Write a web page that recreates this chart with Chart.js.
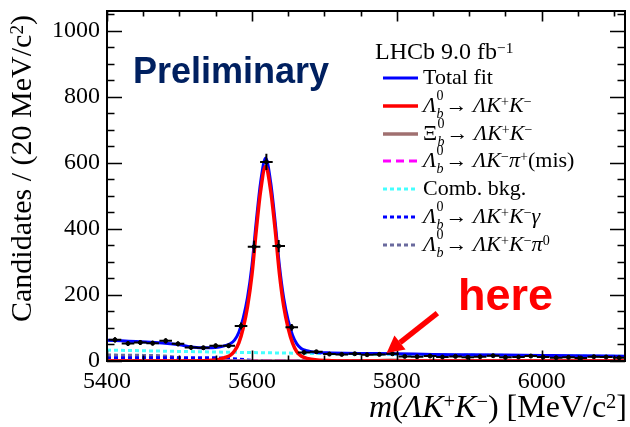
<!DOCTYPE html>
<html>
<head>
<meta charset="utf-8">
<script src="https://cdn.jsdelivr.net/npm/chart.js@4.4.1/dist/chart.umd.min.js"></script>
<style>
  html, body { margin: 0; padding: 0; background: #fff; }
  #wrap { position: relative; width: 630px; height: 427px; overflow: hidden; }
  #massChart { position: absolute; left: 0; top: 0; }
  .serif { font-family: 'Liberation Serif', 'Times New Roman', serif; color: #000; }
  .abs { position: absolute; white-space: nowrap; line-height: 1; }
  .up { position: relative; top: -0.42em; font-size: 0.64em; }
  .ss { display: inline-block; position: relative; width: 0.42em; height: 0; }
  .ss span { position: absolute; left: 0.02em; font-size: 14px; line-height: 1; }
  .ss .hi { top: -23px; }
  .ss .lo { top: -5px; font-style: italic; }
  .legend-row { position: absolute; left: 380px; height: 22px; }
  .legend-row svg { position: absolute; left: 2px; top: 8px; }
  .legend-row .txt { position: absolute; left: 43px; top: 0; font-size: 22px; line-height: 22px; white-space: nowrap; }
</style>
</head>
<body>
<div id="wrap">
  <canvas id="massChart" width="630" height="427"></canvas>

  <div class="abs" style="left:133px; top:50px; font: bold 36px 'Liberation Sans', Arial, sans-serif; color:#002060;">Preliminary</div>
  <div class="abs" style="left:458px; top:269px; font: bold 45px 'Liberation Sans', Arial, sans-serif; color:#ff0000;">here</div>

  <div class="abs serif" style="left:375px; top:39px; font-size:24px;">LHCb 9.0 fb<span class="up">−1</span></div>
  <div id="legend"></div>

  <div class="abs serif" style="left:0; top:0; width:344px; text-align:right; font-size:30px; line-height:34px; transform-origin:0 0; transform:translate(4px, 359px) rotate(-90deg);">Candidates / (20 MeV/c<span class="up">2</span>)</div>
  <div class="abs serif" style="right:3px; top:390px; font-size:32px;"><i>m</i>(<i>ΛK</i><span class="up">+</span><i>K</i><span class="up">−</span>) [MeV/c<span class="up">2</span>]</div>
</div>

<script>
// binned candidates (bin centres in MeV)
const binMass = [5411, 5429, 5446, 5463, 5481, 5498, 5516, 5533, 5550, 5568, 5585, 5603, 5620,
  5637, 5655, 5672, 5689, 5707, 5724, 5742, 5759, 5776, 5794, 5811, 5828, 5846, 5863, 5881,
  5898, 5915, 5933, 5950, 5968, 5985, 6002, 6020, 6037, 6054, 6072, 6089, 6107];
const candidates = [64, 53, 56, 54, 61, 52, 41, 40, 46, 46, 106, 346, 603,
  348, 102, 26, 28, 21, 20, 22, 19, 20, 22, 14, 13, 15, 12, 14,
  11, 13, 16, 11, 12, 15, 12, 10, 11, 9, 13, 12, 10];
const binHalfWidth = 8.7;

// fit curves
const fitMass = [5400, 5420, 5440, 5460, 5480, 5500, 5515, 5530, 5545, 5555, 5562, 5570, 5576,
  5582, 5588, 5594, 5600, 5606, 5612, 5619, 5626, 5632, 5638, 5644, 5650, 5656, 5662, 5668,
  5676, 5690, 5710, 5750, 5800, 5850, 5900, 5950, 6000, 6050, 6115];
const fitTotal = [63, 61, 59, 57, 54, 49, 43, 40, 40, 42, 46, 52, 63,
  87, 130, 193, 288, 422, 541, 615, 540, 424, 289, 189, 124, 79, 52, 38,
  31, 26, 24.5, 23, 22, 20, 19, 18, 17, 16, 14.5];
const fitSignal = [0, 0, 0, 0, 0, 0, 0, 0.5, 2, 5, 10, 17, 30,
  55, 100, 165, 260, 395, 515, 590, 515, 400, 265, 165, 100, 55, 28, 15,
  8, 3, 1, 0, 0, 0, 0, 0, 0, 0, 0];

const xibMass = [5400, 5740, 5770, 5792, 5815, 5840, 6115];
const xibSignal = [0, 0, 0.6, 2, 0.6, 0, 0];

const misMass = [5400, 5500, 5600, 5700, 5900, 6115];
const misBkg = [1.5, 1.5, 1.5, 1, 0.8, 0.5];

const combMass = [5400, 5500, 5600, 5700, 5800, 5900, 6000, 6115];
const combBkg = [33, 29, 25.5, 22.5, 20, 18, 16, 14];

const gammaMass = [5400, 5450, 5500, 5540, 5560, 5575, 5590, 5605, 5620, 5640, 6115];
const gammaBkg = [10, 10, 10, 10, 9, 7, 4, 1.5, 0.3, 0, 0];

const pi0Mass = [5400, 5450, 5480, 5495, 5505, 5515, 5530, 5550, 6115];
const pi0Bkg = [18, 17, 15, 11, 6, 2, 0.3, 0, 0];

const xTicks = { min: 5400, max: 6115, step: 200, minor: 50 };
const yTicks = { min: 0, max: 1060, step: 200, minor: 50 };

const pts = (xs, ys) => xs.map((x, i) => ({ x: x, y: ys[i] }));
const serif = "'Liberation Serif', 'Times New Roman', serif";

// legend entries: label html, colour, dash pattern, width
const lam = '<i>Λ</i><span class="ss"><span class="hi">0</span><span class="lo">b</span></span>';
const xi = 'Ξ<span class="ss"><span class="hi">0</span><span class="lo">b</span></span>';
const kk = '<i>ΛK</i><span class="up">+</span><i>K</i><span class="up">−</span>';
const legendItems = [
  ['Total fit', '#0000ff', '', 3],
  [lam + '→ ' + kk, '#ff0000', '', 3.5],
  [xi + '→ ' + kk, '#a07070', '', 3.5],
  [lam + '→ <i>ΛK</i><span class="up">−</span><i>π</i><span class="up">+</span>(mis)', '#ff00ff', '8 5', 3],
  ['Comb. bkg.', '#44ffff', '4 3', 3],
  [lam + '→ ' + kk + '<i>γ</i>', '#0000ff', '4 3', 3],
  [lam + '→ ' + kk + '<i>π</i><span class="up">0</span>', '#6a6a9e', '4 3', 3]
];
const legend = document.getElementById('legend');
legendItems.forEach((item, i) => {
  const lineY = 77.7 + i * 27.9;
  const row = document.createElement('div');
  row.className = 'legend-row serif';
  row.style.top = (lineY - 12) + 'px';
  row.innerHTML = '<svg width="38" height="8"><line x1="1" y1="4" x2="36" y2="4" stroke="' + item[1] +
    '" stroke-width="' + item[3] + '"' + (item[2] ? ' stroke-dasharray="' + item[2] + '"' : '') +
    '/></svg><span class="txt">' + item[0] + '</span>';
  legend.appendChild(row);
});

// frame with inward ticks on all four sides
const frameTicks = {
  id: 'frameTicks',
  afterDraw(chart) {
    const { ctx, chartArea: a, scales: { x, y } } = chart;
    ctx.save();
    ctx.strokeStyle = '#000';
    ctx.lineWidth = 1.6;
    ctx.beginPath();
    for (let v = xTicks.min; v <= xTicks.max; v += xTicks.minor) {
      const px = Math.round(x.getPixelForValue(v)) + 0.5;
      const len = (v - xTicks.min) % xTicks.step === 0 ? 10.5 : 5.5;
      ctx.moveTo(px, a.bottom); ctx.lineTo(px, a.bottom - len);
      ctx.moveTo(px, a.top); ctx.lineTo(px, a.top + len);
    }
    for (let v = yTicks.min; v <= yTicks.max; v += yTicks.minor) {
      const py = Math.round(y.getPixelForValue(v)) + 0.5;
      const len = v % yTicks.step === 0 ? 15 : 7.5;
      ctx.moveTo(a.left, py); ctx.lineTo(a.left + len, py);
      ctx.moveTo(a.right, py); ctx.lineTo(a.right - len, py);
    }
    ctx.stroke();
    ctx.lineWidth = 2;
    ctx.strokeRect(a.left, a.top, a.right - a.left, a.bottom - a.top);
    ctx.restore();
  }
};

// Poisson error bars and bin widths on the data points
const errorBars = {
  id: 'errorBars',
  afterDatasetsDraw(chart) {
    const { ctx, scales: { x, y } } = chart;
    ctx.save();
    ctx.strokeStyle = '#000';
    ctx.lineWidth = 2;
    ctx.beginPath();
    binMass.forEach((m, i) => {
      const n = candidates[i];
      const px = x.getPixelForValue(m), py = y.getPixelForValue(n);
      ctx.moveTo(x.getPixelForValue(m - binHalfWidth), py);
      ctx.lineTo(x.getPixelForValue(m + binHalfWidth), py);
      ctx.moveTo(px, y.getPixelForValue(n - Math.sqrt(n)));
      ctx.lineTo(px, y.getPixelForValue(n + Math.sqrt(n)));
    });
    ctx.stroke();
    ctx.restore();
  }
};

// red arrow pointing at the Xi_b region
const arrowTail = [5856, 145];
const arrowTip = [5786, 24];
const arrow = {
  id: 'arrow',
  afterDraw(chart) {
    const { ctx, scales: { x, y } } = chart;
    const x0 = x.getPixelForValue(arrowTail[0]), y0 = y.getPixelForValue(arrowTail[1]);
    const x1 = x.getPixelForValue(arrowTip[0]), y1 = y.getPixelForValue(arrowTip[1]);
    const ang = Math.atan2(y1 - y0, x1 - x0);
    const head = 17, hw = 9;
    const bx = x1 - head * Math.cos(ang), by = y1 - head * Math.sin(ang);
    ctx.save();
    ctx.strokeStyle = '#ff0000';
    ctx.fillStyle = '#ff0000';
    ctx.lineWidth = 5.5;
    ctx.beginPath();
    ctx.moveTo(x0, y0); ctx.lineTo(bx, by);
    ctx.stroke();
    ctx.beginPath();
    ctx.moveTo(x1, y1);
    ctx.lineTo(bx + hw * Math.sin(ang), by - hw * Math.cos(ang));
    ctx.lineTo(bx - hw * Math.sin(ang), by + hw * Math.cos(ang));
    ctx.closePath();
    ctx.fill();
    ctx.restore();
  }
};

const curve = (data, color, width, dash, order) => ({
  type: 'line', data: data, borderColor: color, borderWidth: width, borderDash: dash,
  pointRadius: 0, fill: false, cubicInterpolationMode: 'monotone', order: order
});

new Chart(document.getElementById('massChart'), {
  type: 'line',
  data: {
    datasets: [
      {
        type: 'scatter', data: pts(binMass, candidates), showLine: false,
        pointRadius: 2, pointBackgroundColor: '#000', pointBorderColor: '#000', order: 0
      },
      curve(pts(fitMass, fitSignal), '#ff0000', 3.5, [], 1),
      curve(pts(fitMass, fitTotal), '#0000ff', 3, [], 2),
      curve(pts(xibMass, xibSignal), '#a07070', 3.5, [], 3),
      curve(pts(misMass, misBkg), '#ff00ff', 3, [8, 5], 4),
      curve(pts(combMass, combBkg), '#44ffff', 3, [4, 3], 5),
      curve(pts(gammaMass, gammaBkg), '#0000ff', 3, [4, 3], 6),
      curve(pts(pi0Mass, pi0Bkg), '#6a6a9e', 3, [4, 3], 7)
    ]
  },
  options: {
    responsive: false,
    animation: false,
    devicePixelRatio: 1,
    layout: { padding: { top: 11, right: 5, left: 0, bottom: 0 } },
    plugins: { legend: { display: false }, tooltip: { enabled: false } },
    scales: {
      x: {
        type: 'linear', min: xTicks.min, max: xTicks.max,
        grid: { display: false, drawTicks: false }, border: { display: false },
        afterFit: s => { s.height = 66; s.paddingLeft = 0; s.paddingRight = 0; },
        ticks: {
          stepSize: xTicks.step, includeBounds: false, padding: 6, maxRotation: 0,
          color: '#000', font: { family: serif, size: 24 }, callback: v => String(v)
        }
      },
      y: {
        type: 'linear', min: yTicks.min, max: yTicks.max,
        grid: { display: false, drawTicks: false }, border: { display: false },
        afterFit: s => { s.width = 107; s.paddingTop = 0; s.paddingBottom = 0; },
        ticks: {
          stepSize: yTicks.step, includeBounds: false, padding: 7,
          color: '#000', font: { family: serif, size: 24 }, callback: v => String(v)
        }
      }
    }
  },
  plugins: [frameTicks, errorBars, arrow]
});
</script>
</body>
</html>
